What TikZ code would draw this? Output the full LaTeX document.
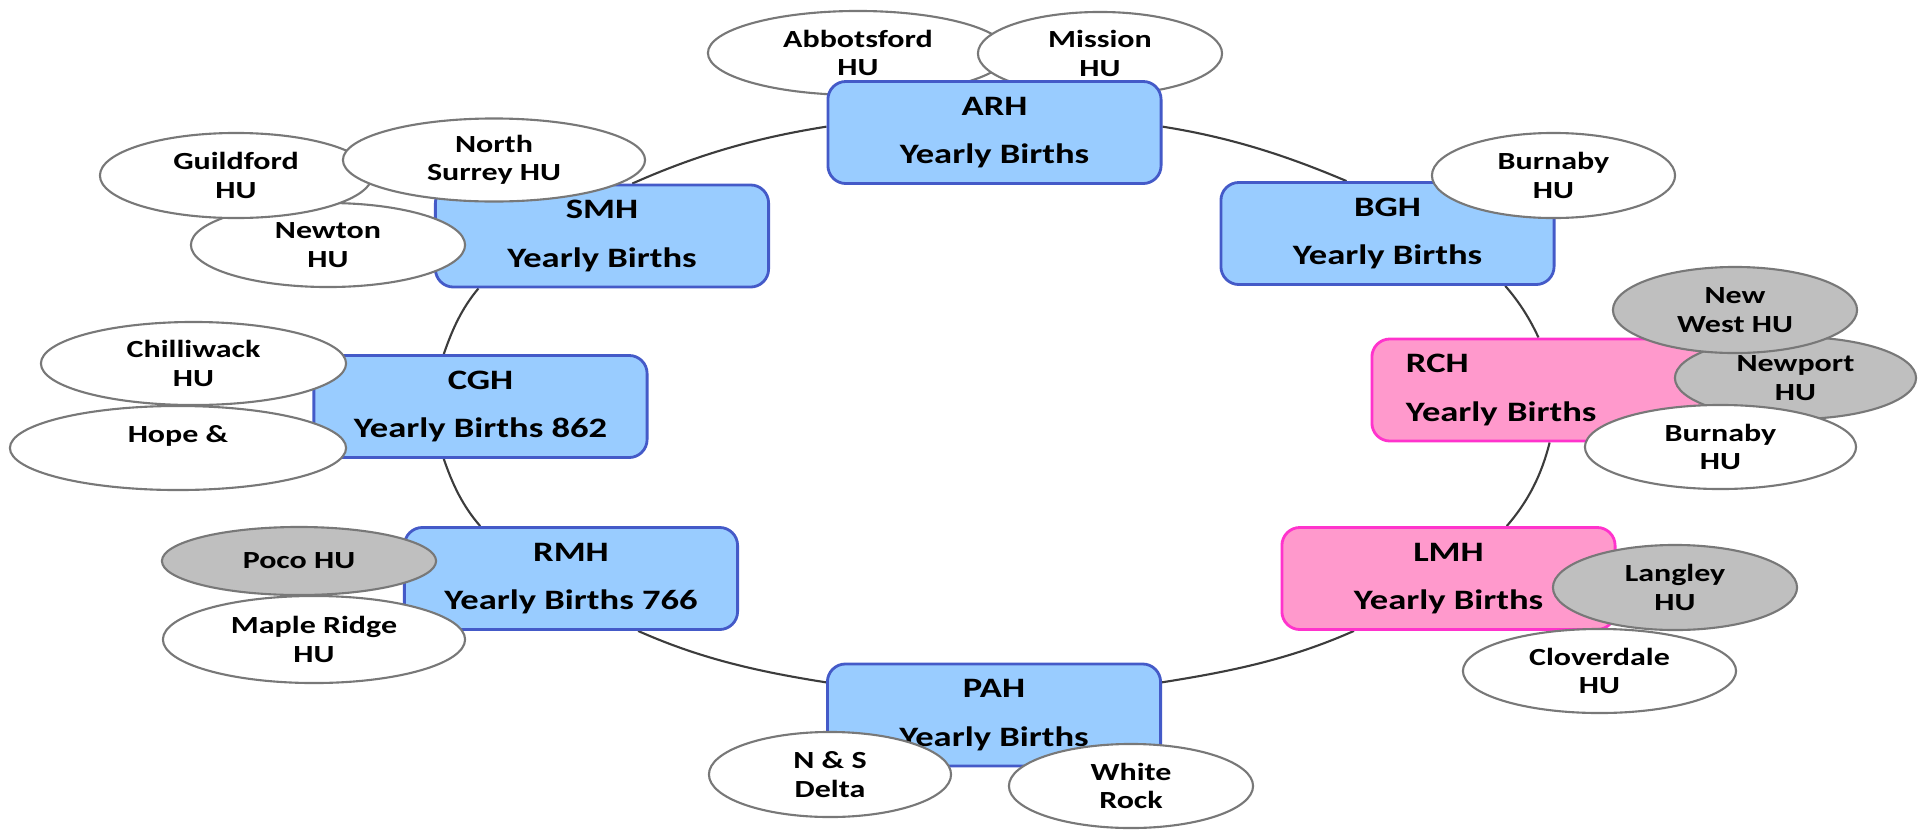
\documentclass[tikz,border=0pt]{standalone}
\usepackage{fontspec}
\newfontfamily\hubfont[FakeStretch=1.3]{Carlito}
\usetikzlibrary{shapes.geometric,backgrounds}
\definecolor{boxblue}{RGB}{153,204,255}
\definecolor{boxblueline}{RGB}{68,90,200}
\definecolor{boxpink}{RGB}{255,153,204}
\definecolor{boxpinkline}{RGB}{255,51,204}
\definecolor{hugray}{RGB}{191,191,191}
\definecolor{huline}{RGB}{120,120,120}
\definecolor{ringline}{RGB}{60,60,60}
\tikzset{
  hosp/.style={rectangle, rounded corners=0.18cm, draw=boxblueline, fill=boxblue, line width=0.8pt,
    minimum width=3.33cm, minimum height=1.02cm, inner sep=0pt, align=center,
    font=\hubfont\bfseries\fontsize{8}{13.7}\selectfont},
  hosppink/.style={hosp, draw=boxpinkline, fill=boxpink},
  hu/.style={ellipse, draw=huline, fill=white, line width=0.6pt, inner sep=0pt, align=center,
    font=\hubfont\bfseries\fontsize{7}{8.1}\selectfont},
  hugrey/.style={hu, fill=hugray},
  ring/.style={draw=ringline, line width=0.6pt, looseness=0.9}
}
\begin{document}
\begin{tikzpicture}[x=0.01cm, y=0.01cm]
    \useasboundingbox (0,0) rectangle (1920,829);
    % ARH
    \node[hu, minimum width=3cm, minimum height=0.84cm] (abbotsford) at (858, 776) {Abbotsford\\HU};
    \node[hu, minimum width=2.44cm, minimum height=0.83cm] (mission) at (1100, 775.5) {Mission\\HU};
    \node[hosp] (ARH) at (994.5, 696.5) {ARH\\Yearly Births};
    % BGH
    \node[hosp] (BGH) at (1387.5, 595.5) {BGH\\Yearly Births};
    \node[hu, minimum width=2.43cm, minimum height=0.85cm] (burnabyB) at (1553.5, 653.5) {Burnaby\\HU};
    % RCH
    \node[hosppink, text width=2.65cm, align=left] (RCH) at (1538.5, 439) {RCH\\Yearly Births};
    \node[hugrey, minimum width=2.41cm, minimum height=0.82cm] (newport) at (1795.5, 451) {Newport\\HU};
    \node[hugrey, minimum width=2.44cm, minimum height=0.86cm] (newwest) at (1735, 519) {New\\West HU};
    \node[hu, minimum width=2.71cm, minimum height=0.84cm] (burnabyR) at (1720.5, 382) {Burnaby\\HU};
    % LMH
    \node[hosppink] (LMH) at (1448.5, 250.5) {LMH\\Yearly Births};
    \node[hugrey, minimum width=2.44cm, minimum height=0.85cm] (langley) at (1675, 241.5) {Langley\\HU};
    \node[hu, minimum width=2.73cm, minimum height=0.84cm] (cloverdale) at (1599.5, 158) {Cloverdale\\HU};
    % PAH
    \node[hosp] (PAH) at (994, 114) {PAH\\Yearly Births};
    \node[hu, minimum width=2.42cm, minimum height=0.85cm] (delta) at (830, 54.5) {N \& S\\Delta};
    \node[hu, minimum width=2.44cm, minimum height=0.84cm] (whiterock) at (1131, 43) {White\\Rock};
    % RMH
    \node[hosp] (RMH) at (571, 250.5) {RMH\\Yearly Births 766};
    \node[hugrey, minimum width=2.74cm, minimum height=0.68cm] (poco) at (299, 268) {Poco HU};
    \node[hu, minimum width=3.02cm, minimum height=0.87cm] (mapleridge) at (314, 189.5) {Maple Ridge\\HU};
    % CGH
    \node[hosp] (CGH) at (480.5, 422.5) {CGH\\Yearly Births 862};
    \node[hu, minimum width=3.05cm, minimum height=0.83cm] (chilliwack) at (193.5, 465.5) {Chilliwack\\HU};
    \node[hu, minimum width=3.36cm, minimum height=0.84cm] (hope) at (178, 381) {Hope \&\\\mbox{}};
    % SMH
    \node[hosp] (SMH) at (602, 593) {SMH\\Yearly Births};
    \node[hu, minimum width=2.74cm, minimum height=0.84cm] (newton) at (328, 584) {Newton\\HU};
    \node[hu, minimum width=2.72cm, minimum height=0.85cm] (guildford) at (236, 653.5) {Guildford\\HU};
    \node[hu, minimum width=3.02cm, minimum height=0.83cm] (northsurrey) at (494, 669) {North\\Surrey HU};
    % Ring
    \begin{pgfonlayer}{background}
        \draw[ring] (ARH.2) to[out=-9, in=157] (BGH.128);
        \draw[ring] (BGH.-24) to[out=-49, in=115] (RCH.90);
        \draw[ring] (RCH.-78) to[out=-104, in=49] (LMH.42);
        \draw[ring] (LMH.209) to[out=-156, in=9] (PAH.11);
        \draw[ring] (PAH.169) to[out=171, in=-24] (RMH.-38);
        \draw[ring] (RMH.150) to[out=131, in=-71] (CGH.235);
        \draw[ring] (CGH.125) to[out=71, in=-130] (SMH.203);
        \draw[ring] (SMH.60) to[out=24, in=-171] (ARH.178);
    \end{pgfonlayer}
\end{tikzpicture}
\end{document}
